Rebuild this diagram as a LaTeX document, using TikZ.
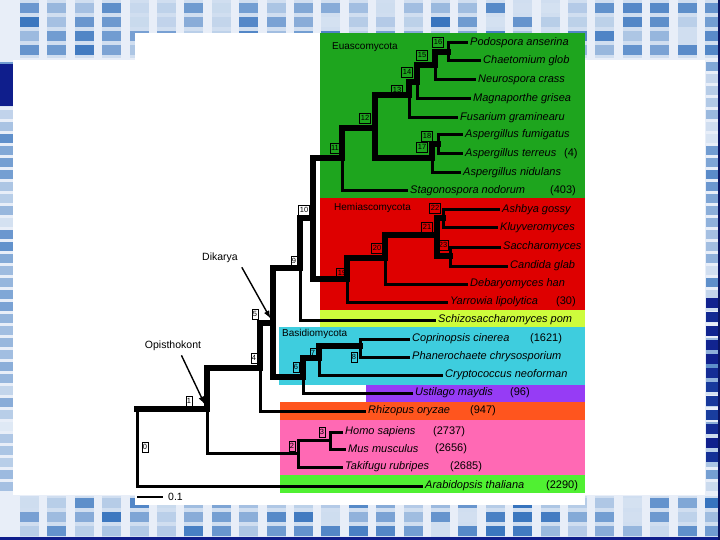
\documentclass[tikz,border=0pt]{standalone}
\usepackage{fontspec}
\setmainfont{Liberation Sans}
\setsansfont{Liberation Sans}
\usepackage{xcolor}
\usetikzlibrary{arrows.meta,positioning}

\definecolor{gel}{RGB}{40,105,185}
\definecolor{gelnavy}{RGB}{15,30,140}
\definecolor{gelpale}{RGB}{232,238,248}
\definecolor{eucol}{RGB}{30,165,30}
\definecolor{hemicol}{RGB}{222,0,0}
\definecolor{schicol}{RGB}{205,252,60}
\definecolor{basicol}{RGB}{62,205,222}
\definecolor{ustcol}{RGB}{150,60,245}
\definecolor{rhizcol}{RGB}{255,85,30}
\definecolor{vertcol}{RGB}{255,105,180}
\definecolor{arabcol}{RGB}{80,240,50}

\begin{document}
\begin{tikzpicture}[x=1pt, y=-1pt,
  font=\sffamily,
  branch/.style={line width=3pt, line cap=rect},
  trunk/.style={line width=5.4pt, line cap=rect},
  taxon/.style={anchor=west, inner xsep=4pt, inner ysep=0pt,
    font=\sffamily\itshape\fontsize{11}{12}\selectfont},
  count/.style={anchor=west, inner sep=0pt, font=\sffamily\fontsize{11}{12}\selectfont},
  clade/.style={anchor=west, inner sep=0pt, font=\sffamily\fontsize{10}{11}\selectfont},
  nlabel/.style={draw, line width=0.7pt, inner sep=1pt, minimum height=10pt,
    font=\sffamily\fontsize{7.5}{8}\selectfont},
  pointer/.style={-{Latex[length=8pt,width=6pt]}, line width=1.4pt,
    shorten >=5pt, shorten <=1pt}
]
\useasboundingbox (0,0) rectangle (720,540);

% gel backdrop
\fill[gelpale] (0,0) rectangle (720,540);
\pgfmathsetseed{11}
\foreach \i in {0,...,25}{
  \pgfmathsetmacro\xa{20+27.4*\i}
  \fill[gel!22!white] (\xa,0) rectangle ++(19,58);
  \fill[gel!22!white] (\xa,496) rectangle ++(19,44);
  \foreach \yb in {3,17,31,45,498,512,526}{
    \pgfmathsetmacro\sh{int(20+75*rnd)}
    \fill[gel!\sh!white] (\xa,\yb) rectangle ++(19,10);
  }
}
\foreach \yb in {62,74,...,486}{
  \pgfmathsetmacro\sh{int(15+60*rnd)}
  \fill[gel!\sh!white] (0,\yb) rectangle (13,\yb+9);
  \pgfmathsetmacro\sh{int(15+65*rnd)}
  \fill[gel!\sh!white] (706,\yb) rectangle (720,\yb+9);
}
\fill[gelnavy] (0,64) rectangle (13,106);
\foreach \yb in {298,312,...,452}{
  \pgfmathsetmacro\sh{int(55+45*rnd)}
  \fill[gelnavy!\sh!gel] (706,\yb) rectangle (720,\yb+10);
}
\fill[gelnavy] (0,537) rectangle (720,540);
\fill[gelnavy!70!black] (718,0) rectangle (720,540);

% white panels
\fill[white] (13,60) rectangle (705,495);
\fill[white] (135,33) rectangle (585,505);

% clade bands
\fill[eucol] (320,33) rectangle (585,198);
\fill[hemicol] (320,198) rectangle (585,310);
\fill[schicol] (320,310) rectangle (585,327);
\fill[basicol] (279,327) rectangle (585,385);
\fill[ustcol] (366,385) rectangle (585,402);
\fill[rhizcol] (280,402) rectangle (585,420);
\fill[vertcol] (280,420) rectangle (585,475);
\fill[arabcol] (280,475) rectangle (585,493);

% internal nodes
\coordinate (n0) at (137,409);
\coordinate (n1) at (207,409);
\coordinate (n2) at (298,453);
\coordinate (n3) at (330,440);
\coordinate (n4) at (260,368);
\coordinate (n5) at (273,323);
\coordinate (n6) at (303,377);
\coordinate (n7) at (319,358);
\coordinate (n8) at (360,346);
\coordinate (n9) at (300,268);
\coordinate (n10) at (313,218);
\coordinate (n11) at (342,158);
\coordinate (n12) at (375,128);
\coordinate (n13) at (409,95);
\coordinate (n14) at (417,82);
\coordinate (n15) at (435,65);
\coordinate (n16) at (448,52);
\coordinate (n17) at (432,158);
\coordinate (n18) at (438,144);
\coordinate (n19) at (347,279);
\coordinate (n20) at (385,258);
\coordinate (n21) at (437,235);
\coordinate (n22) at (443,218);
\coordinate (n23) at (450,256);

% taxa
\node[taxon] (pod) at (466,43) {Podospora anserina};
\node[taxon] (chae) at (479,61) {Chaetomium glob};
\node[taxon] (neur) at (474,80) {Neurospora crass};
\node[taxon] (magn) at (469,99) {Magnaporthe grisea};
\node[taxon] (fusa) at (456,118) {Fusarium graminearu};
\node[taxon] (fumi) at (461,135) {Aspergillus fumigatus};
\node[taxon] (terr) at (461,154) {Aspergillus terreus};
\node[taxon] (nidu) at (459,173) {Aspergillus nidulans};
\node[taxon] (stag) at (406,191) {Stagonospora nodorum};
\node[taxon] (ashb) at (498,210) {Ashbya gossy};
\node[taxon] (kluy) at (496,228) {Kluyveromyces};
\node[taxon] (sacc) at (499,247) {Saccharomyces};
\node[taxon] (cand) at (506,266) {Candida glab};
\node[taxon] (deba) at (466,284) {Debaryomyces han};
\node[taxon] (yarr) at (446,302) {Yarrowia lipolytica};
\node[taxon] (schi) at (434,320) {Schizosaccharomyces pom};
\node[taxon] (copr) at (408,339) {Coprinopsis cinerea};
\node[taxon] (phan) at (408,357) {Phanerochaete chrysosporium};
\node[taxon] (cryp) at (441,375) {Cryptococcus neoforman};
\node[taxon] (usti) at (411,393) {Ustilago maydis};
\node[taxon] (rhiz) at (364,411) {Rhizopus oryzae};
\node[taxon] (homo) at (341,432) {Homo sapiens};
\node[taxon] (mus) at (344,449) {Mus musculus};
\node[taxon] (taki) at (341,467) {Takifugu rubripes};
\node[taxon] (arab) at (421,486) {Arabidopsis thaliana};

% gene counts
\node[count] (cterr) at (564,154) {(4)};
\node[count] (cstag) at (550,191) {(403)};
\node[count] (cyarr) at (556,302) {(30)};
\node[count] (ccopr) at (530,339) {(1621)};
\node[count] (custi) at (510,393) {(96)};
\node[count] (crhiz) at (470,411) {(947)};
\node[count] (chomo) at (433,432) {(2737)};
\node[count] (cmus) at (435,449) {(2656)};
\node[count] (ctaki) at (450,467) {(2685)};
\node[count] (carab) at (546,486) {(2290)};

% clade names
\node[clade] (euas) at (332,47) {Euascomycota};
\node[clade] (hemi) at (334,208) {Hemiascomycota};
\node[clade] (basi) at (282,334) {Basidiomycota};

% backbone
\draw[trunk] (n0) -- (n1);
\draw[branch] (n0) |- (arab.west);
\draw[trunk] (n1) |- (n4);
\draw[branch] (n1) |- (n2);
\draw[trunk] (n4) |- (n5);
\draw[branch] (n4) |- (rhiz.west);
\draw[trunk] (n5) |- (n9);
\draw[trunk] (n5) |- (n6);
\draw[trunk] (n9) |- (n10);
\draw[branch] (n9) |- (schi.west);
\draw[trunk] (n10) |- (n11);
\draw[trunk] (n10) |- (n19);

% Euascomycota
\draw[trunk] (n11) |- (n12);
\draw[branch] (n11) |- (stag.west);
\draw[trunk] (n12) |- (n13);
\draw[trunk] (n12) |- (n17);
\draw[trunk] (n13) |- (n14);
\draw[branch] (n13) |- (fusa.west);
\draw[trunk] (n14) |- (n15);
\draw[branch] (n14) |- (magn.west);
\draw[trunk] (n15) |- (n16);
\draw[branch] (n15) |- (neur.west);
\draw[branch] (n16) |- (pod.west);
\draw[branch] (n16) |- (chae.west);
\draw[trunk] (n17) |- (n18);
\draw[branch] (n17) |- (nidu.west);
\draw[branch] (n18) |- (fumi.west);
\draw[branch] (n18) |- (terr.west);

% Hemiascomycota
\draw[trunk] (n19) |- (n20);
\draw[branch] (n19) |- (yarr.west);
\draw[trunk] (n20) |- (n21);
\draw[branch] (n20) |- (deba.west);
\draw[trunk] (n21) |- (n22);
\draw[trunk] (n21) |- (n23);
\draw[branch] (n22) |- (ashb.west);
\draw[branch] (n22) |- (kluy.west);
\draw[branch] (n23) |- (sacc.west);
\draw[branch] (n23) |- (cand.west);

% Basidiomycota
\draw[trunk] (n6) |- (n7);
\draw[branch] (n6) |- (usti.west);
\draw[trunk] (n7) |- (n8);
\draw[branch] (n7) |- (cryp.west);
\draw[branch] (n8) |- (copr.west);
\draw[branch] (n8) |- (phan.west);

% vertebrates
\draw[branch] (n2) |- (n3);
\draw[branch] (n2) |- (taki.west);
\draw[branch] (n3) |- (homo.west);
\draw[branch] (n3) |- (mus.west);

% node numbers
\node[nlabel] (b0) at (145,447) {0};
\node[nlabel] (b1) at (189,401) {1};
\node[nlabel] (b2) at (292,446) {2};
\node[nlabel] (b3) at (322,432) {3};
\node[nlabel] (b4) at (254,358) {4};
\node[nlabel] (b5) at (255,314) {5};
\node[nlabel] (b6) at (296,367) {6};
\node[nlabel] (b7) at (313,353) {7};
\node[nlabel] (b8) at (354,357) {8};
\node[nlabel] (b9) at (294,261) {9};
\node[nlabel] (b10) at (304,210) {10};
\node[nlabel] (b11) at (335,148) {11};
\node[nlabel] (b12) at (365,118) {12};
\node[nlabel] (b13) at (397,90) {13};
\node[nlabel] (b14) at (407,72) {14};
\node[nlabel] (b15) at (422,55) {15};
\node[nlabel] (b16) at (438,42) {16};
\node[nlabel] (b17) at (422,147) {17};
\node[nlabel] (b18) at (427,136) {18};
\node[nlabel] (b19) at (342,273) {19};
\node[nlabel] (b20) at (377,248) {20};
\node[nlabel] (b21) at (427,227) {21};
\node[nlabel] (b22) at (435,208) {22};
\node[nlabel] (b23) at (443,245) {23};

% annotations
\node[font=\sffamily\fontsize{10.5}{12}\selectfont] (dik) at (220,258) {Dikarya};
\node[font=\sffamily\fontsize{10.5}{12}\selectfont] (opi) at (173,346) {Opisthokont};
\draw[pointer] (dik.south east) -- (n5);
\draw[pointer] ([xshift=8pt]opi.south) -- (n1);

% scale bar
\coordinate (sb1) at (137,497);
\coordinate (sb2) at (163,497);
\draw[line width=2.6pt] (sb1) -- (sb2);
\node[anchor=west, inner sep=0pt, font=\sffamily\fontsize{10.5}{12}\selectfont] (sbl) at (168,497) {0.1};
\end{tikzpicture}
\end{document}
